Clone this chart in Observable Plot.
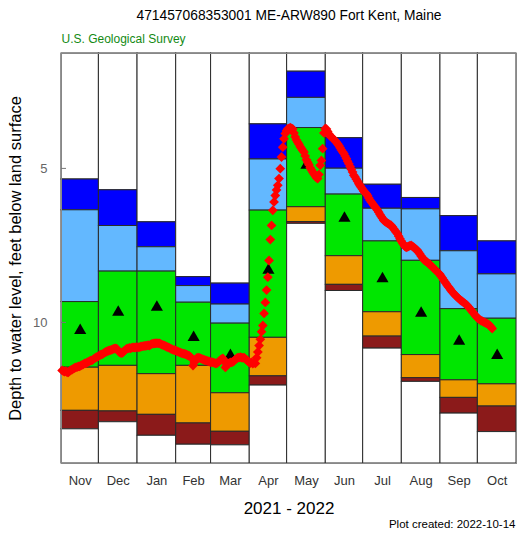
<!DOCTYPE html>
<html><head><meta charset="utf-8">
<script src="https://cdn.jsdelivr.net/npm/d3@7"></script>
<script src="https://cdn.jsdelivr.net/npm/@observablehq/plot@0.6"></script>
<style>body{margin:0;background:#fff} svg{display:block}</style>
</head><body><div id="chart"></div>
<script>
const months = ["Nov","Dec","Jan","Feb","Mar","Apr","May","Jun","Jul","Aug","Sep","Oct"];
const monthStarts = ["2021-11-01","2021-12-01","2022-01-01","2022-02-01","2022-03-01","2022-04-01","2022-05-01","2022-06-01","2022-07-01","2022-08-01","2022-09-01","2022-10-01","2022-11-01"];
// monthly percentiles of depth to water (ft)
const pMax = [5.36, 5.71, 6.75, 8.53, 8.74, 3.57, 1.86, 4.02, 5.53, 5.96, 6.55, 7.37];
const p90  = [6.36, 6.87, 7.56, 8.82, 9.42, 4.71, 2.71, 5.01, 6.31, 6.33, 7.69, 8.44];
const p75  = [9.34, 8.35, 8.35, 9.36, 10.04, 6.37, 3.69, 5.85, 7.37, 8.00, 9.57, 9.88];
const p25  = [11.47, 11.41, 11.68, 11.41, 12.30, 10.50, 6.26, 7.85, 9.67, 11.06, 11.88, 12.01];
const p10  = [12.87, 12.89, 13.00, 13.28, 13.55, 11.75, 6.74, 8.78, 10.46, 11.81, 12.45, 12.73];
const pMin = [13.47, 13.24, 13.68, 13.97, 13.99, 12.05, 6.80, 8.98, 10.85, 11.93, 12.96, 13.56];
const median = [10.26, 9.67, 9.51, 10.49, 11.07, 8.31, 4.90, 6.62, 8.58, 9.70, 10.61, 11.07];
const depthDomain = [1.27, 14.58];
const yTicks = [5, 10];

// daily depth to water, starting 2021-11-01
const dailyStart = "2021-11-01";
const dailyLevels = [
 // Nov
 11.56,11.58,11.60,11.58,11.62,11.62,11.58,11.55,11.53,11.50,11.48,11.46,11.45,11.43,11.43,11.40,11.38,11.36,11.33,11.33,11.30,11.28,11.26,11.24,11.23,11.20,11.17,11.14,11.12,11.10,
 // Dec
 11.07,11.05,11.04,11.01,10.98,10.96,10.94,10.92,10.91,10.90,10.88,10.86,10.85,10.84,10.86,10.92,10.97,10.99,11.00,10.96,10.92,10.88,10.85,10.84,10.83,10.84,10.82,10.81,10.82,10.81,10.80,
 // Jan
 10.81,10.80,10.79,10.78,10.77,10.76,10.76,10.75,10.74,10.75,10.72,10.70,10.69,10.68,10.68,10.67,10.68,10.68,10.70,10.72,10.74,10.75,10.77,10.79,10.81,10.83,10.85,10.87,10.89,10.90,10.91,
 // Feb
 10.93,10.95,10.97,10.98,11.00,11.01,11.02,11.03,11.05,11.07,11.09,11.12,11.17,11.40,11.30,11.20,11.16,11.14,11.15,11.17,11.18,11.20,11.22,11.23,11.24,11.26,11.27,11.29,
 // Mar
 11.29,11.30,11.31,11.33,11.33,11.30,11.26,11.22,11.19,11.17,11.25,11.46,11.38,11.34,11.32,11.30,11.30,11.28,11.25,11.20,11.17,11.14,11.14,11.13,11.14,11.15,11.14,11.18,11.22,11.26,11.30,
 // Apr
 11.32,11.30,11.34,11.30,11.33,11.15,10.96,10.75,10.55,10.30,10.10,9.71,9.35,8.95,8.53,7.99,7.31,6.85,6.36,6.09,5.88,5.70,5.55,5.33,5.01,4.63,4.31,4.04,3.87,3.78,
 // May
 3.72,3.70,3.68,3.70,3.72,3.85,3.98,4.08,4.15,4.22,4.30,4.35,4.42,4.47,4.60,4.72,4.80,4.88,4.98,5.05,5.12,5.18,5.24,5.30,5.33,5.20,4.90,4.74,4.36,3.85,3.71,
 // Jun
 3.72,3.80,3.88,3.95,3.98,4.02,4.06,4.10,4.15,4.20,4.26,4.33,4.40,4.46,4.52,4.60,4.68,4.77,4.85,4.94,5.03,5.12,5.22,5.28,5.35,5.42,5.50,5.56,5.62,5.68,
 // Jul
 5.74,5.78,5.82,5.88,5.96,6.03,6.09,6.14,6.20,6.25,6.30,6.36,6.42,6.50,6.56,6.62,6.69,6.72,6.75,6.78,6.80,6.83,6.85,6.90,6.96,7.02,7.07,7.12,7.20,7.28,7.36,
 // Aug
 7.42,7.48,7.53,7.56,7.55,7.53,7.51,7.50,7.53,7.56,7.60,7.63,7.66,7.72,7.78,7.84,7.90,7.96,7.99,8.02,8.05,8.09,8.12,8.16,8.20,8.24,8.28,8.32,8.36,8.40,8.44,
 // Sep
 8.50,8.56,8.62,8.68,8.74,8.80,8.85,8.90,8.96,9.01,9.06,9.10,9.14,9.18,9.22,9.26,9.29,9.32,9.35,9.38,9.42,9.45,9.50,9.55,9.60,9.65,9.70,9.75,9.80,9.85,
 // Oct
 9.88,9.91,9.94,9.96,9.98,10.00,10.02,10.04,10.06,10.10,10.15,10.20
];

const colors = {white:"#ffffff", blue:"#0000ff", lightblue:"#63b8ff", green:"#00e600", orange:"#ee9a00", darkred:"#8b1a1a"};

const starts = monthStarts.map(s => new Date(s + "T00:00:00Z"));
const segments = [];
months.forEach((m, i) => {
  const x1 = starts[i], x2 = starts[i + 1];
  const bounds = [depthDomain[0], pMax[i], p90[i], p75[i], p25[i], p10[i], pMin[i], depthDomain[1]];
  const fills = [colors.white, colors.blue, colors.lightblue, colors.green, colors.orange, colors.darkred, colors.white];
  for (let k = 0; k < 7; k++) segments.push({x1, x2, y1: bounds[k], y2: bounds[k + 1], fill: fills[k]});
});
const mids = months.map((m, i) => new Date((+starts[i] + +starts[i + 1]) / 2));
const labelByTime = new Map(mids.map((d, i) => [+d, months[i]]));
const medians = months.map((m, i) => ({date: mids[i], value: median[i]}));
const t0 = new Date(dailyStart + "T12:00:00Z");
const daily = dailyLevels.map((v, i) => ({date: new Date(+t0 + i * 864e5), value: v}));

const chart = Plot.plot({
  width: 517, height: 533,
  marginTop: 53, marginBottom: 70, marginLeft: 61, marginRight: 1,
  style: {fontFamily: "'Liberation Sans', Arial, sans-serif", fontSize: "13px", background: "#fff"},
  x: {type: "utc", domain: [starts[0], starts[12]]},
  y: {domain: depthDomain, reverse: true},
  marks: [
    Plot.rect(segments, {x1: "x1", x2: "x2", y1: "y1", y2: "y2", fill: "fill", stroke: "#2a2a2a", strokeWidth: 1}),
    Plot.frame({stroke: "#888"}),
    Plot.axisY({ticks: yTicks, tickSize: -5, tickPadding: 19, stroke: "#777", fill: "#666", fontSize: 13, label: null}),
    Plot.axisX({ticks: mids, tickSize: 0, tickPadding: 12, tickFormat: d => labelByTime.get(+d), fill: "#333", fontSize: 13, label: null}),
    Plot.dot(medians, {x: "date", y: "value", symbol: "triangle", r: 4.5, fill: "black", stroke: "none"}),
    Plot.dot(daily, {x: "date", y: "value", symbol: "square", rotate: 45, r: 3.9, fill: "#ff0000", stroke: "none"}),
    Plot.text(["471457068353001 ME-ARW890 Fort Kent, Maine"], {frameAnchor: "top", lineAnchor: "middle", dy: -37.5, fontSize: 13.8, fill: "#000"}),
    Plot.text(["U.S. Geological Survey"], {frameAnchor: "top-left", textAnchor: "start", lineAnchor: "middle", dy: -14, fontSize: 12, fill: "#138a13"}),
    Plot.text(["Depth to water level, feet below land surface"], {frameAnchor: "left", rotate: -90, textAnchor: "middle", lineAnchor: "middle", dx: -46, fontSize: 16.5, fill: "#000"}),
    Plot.text(["2021 - 2022"], {frameAnchor: "bottom", lineAnchor: "middle", dy: 45, fontSize: 17, fill: "#000"}),
    Plot.text(["Plot created: 2022-10-14"], {frameAnchor: "bottom-right", textAnchor: "end", lineAnchor: "middle", dy: 61, dx: -1, fontSize: 11.5, fill: "#000"})
  ]
});
document.getElementById("chart").append(chart);
</script>
</body></html>
